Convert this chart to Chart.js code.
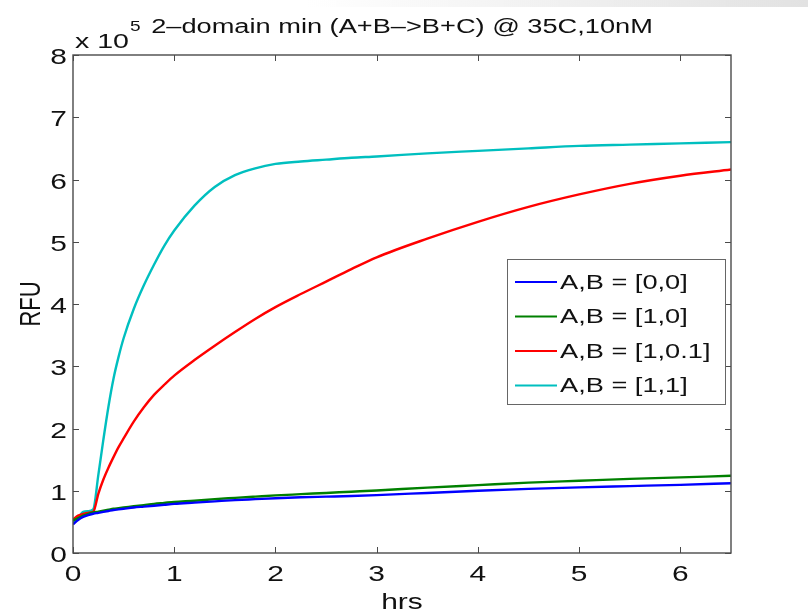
<!DOCTYPE html>
<html>
<head>
<meta charset="utf-8">
<script src="https://cdn.jsdelivr.net/npm/chart.js@4.4.1/dist/chart.umd.min.js"></script>
<style>
  html, body { margin: 0; padding: 0; background: #fff; }
  #wrap { position: relative; width: 808px; height: 613px; overflow: hidden; background: #fff; }
  #band { position: absolute; left: 0; top: 0; width: 808px; height: 7px;
          background: linear-gradient(to right, rgba(228,228,228,0) 0%, rgba(228,228,228,0) 38%, #e2e2e2 100%); }
  canvas { position: absolute; left: 0; top: 0; }
</style>
</head>
<body>
<div id="wrap">
  <canvas id="c" width="808" height="613"></canvas>
  <div id="band"></div>
</div>
<script>
// Time points (hours) shared by all four traces
const hours = [0, 0.05, 0.1, 0.15, 0.2, 0.25, 0.3, 0.35, 0.4, 0.45, 0.5, 0.6, 0.7, 0.8, 0.9, 1.0, 1.2, 1.4,
               1.6, 1.8, 2.0, 2.25, 2.5, 2.75, 3.0, 3.5, 4.0, 4.5, 5.0, 5.5, 6.0, 6.5];

// Fluorescence readings, in units of 10^5 RFU
const rfuAB_0_0 = [0.46, 0.53, 0.58, 0.61, 0.63, 0.645, 0.66, 0.675, 0.69, 0.70, 0.71, 0.73, 0.745, 0.76, 0.775, 0.79, 0.81, 0.83,
                   0.85, 0.865, 0.88, 0.895, 0.905, 0.915, 0.93, 0.965, 1.00, 1.03, 1.055, 1.075, 1.095, 1.12];
const rfuAB_1_0 = [0.52, 0.56, 0.60, 0.63, 0.65, 0.665, 0.68, 0.695, 0.71, 0.72, 0.73, 0.75, 0.77, 0.79, 0.805, 0.82, 0.84, 0.865,
                   0.885, 0.905, 0.925, 0.945, 0.965, 0.985, 1.005, 1.05, 1.09, 1.13, 1.16, 1.19, 1.215, 1.24];
const rfuAB_1_01 = [0.54, 0.60, 0.63, 0.645, 0.66, 0.95, 1.18, 1.37, 1.54, 1.70, 1.84, 2.11, 2.34, 2.54, 2.70, 2.85, 3.10, 3.33,
                    3.55, 3.76, 3.95, 4.16, 4.36, 4.56, 4.75, 5.05, 5.32, 5.56, 5.76, 5.93, 6.06, 6.16];
const rfuAB_1_1 = [0.48, 0.55, 0.66, 0.67, 0.70, 1.25, 1.82, 2.35, 2.80, 3.15, 3.45, 3.92, 4.30, 4.63, 4.93, 5.18, 5.58, 5.88,
                   6.07, 6.18, 6.25, 6.29, 6.32, 6.35, 6.37, 6.42, 6.46, 6.50, 6.54, 6.56, 6.58, 6.60];

const seriesLabels = ['A,B = [0,0]', 'A,B = [1,0]', 'A,B = [1,0.1]', 'A,B = [1,1]'];
const seriesValues = [rfuAB_0_0, rfuAB_1_0, rfuAB_1_01, rfuAB_1_1];
const seriesColors = ['#0000ff', '#008000', '#ff0000', '#00bfbf'];

const titleText = '2\u2013domain min (A+B\u2013>B+C) @ 35C,10nM';
const xTitle = 'hrs';
const yTitle = 'RFU';
const yExponent = '5';

const FONT = '"Liberation Sans", Arial, Helvetica, sans-serif';
const STRETCH = 1.36;   // wide letterforms of the exported figure
const AXIS_COLOR = '#4a4a4a';

function wideText(ctx, text, x, y, size, align, baseline) {
  ctx.save();
  ctx.font = size + 'px ' + FONT;
  ctx.textAlign = align;
  ctx.textBaseline = baseline;
  ctx.fillStyle = '#111';
  ctx.translate(x, y);
  ctx.scale(STRETCH, 1);
  ctx.fillText(text, 0, 0);
  ctx.restore();
}
function wideWidth(ctx, text, size) {
  ctx.save();
  ctx.font = size + 'px ' + FONT;
  const w = ctx.measureText(text).width * STRETCH;
  ctx.restore();
  return w;
}

// Box, inward ticks, tick labels, titles and legend in the classic figure style
const figureFrame = {
  id: 'figureFrame',
  afterDatasetsDraw(chart) {
    const ctx = chart.ctx;
    const a = chart.chartArea;
    const xs = chart.scales.x, ys = chart.scales.y;
    const tickLen = 6;

    ctx.save();
    ctx.strokeStyle = AXIS_COLOR;
    ctx.lineWidth = 1.4;
    ctx.strokeRect(a.left, a.top, a.right - a.left, a.bottom - a.top);

    ctx.lineWidth = 1;
    ctx.beginPath();
    xs.ticks.forEach(t => {
      const px = Math.round(xs.getPixelForValue(t.value)) + 0.5;
      ctx.moveTo(px, a.bottom); ctx.lineTo(px, a.bottom - tickLen);
      ctx.moveTo(px, a.top); ctx.lineTo(px, a.top + tickLen);
    });
    ys.ticks.forEach(t => {
      const py = Math.round(ys.getPixelForValue(t.value)) + 0.5;
      ctx.moveTo(a.left, py); ctx.lineTo(a.left + tickLen, py);
      ctx.moveTo(a.right, py); ctx.lineTo(a.right - tickLen, py);
    });
    ctx.stroke();
    ctx.restore();

    xs.ticks.forEach(t => {
      wideText(ctx, String(t.value), xs.getPixelForValue(t.value), a.bottom + 22, 22, 'center', 'middle');
    });
    ys.ticks.forEach(t => {
      const txt = String(t.value);
      const w = wideWidth(ctx, txt, 22);
      wideText(ctx, txt, a.left - 6 - w, ys.getPixelForValue(t.value) + 3, 22, 'left', 'middle');
    });

    const cx = (a.left + a.right) / 2;
    const tw = wideWidth(ctx, titleText, 20);
    wideText(ctx, titleText, cx - tw / 2, 33, 20, 'left', 'alphabetic');

    // axis multiplier
    wideText(ctx, 'x 10', a.left + 2, 48, 21, 'left', 'alphabetic');
    const mw = wideWidth(ctx, 'x 10', 21);
    wideText(ctx, yExponent, a.left + 3 + mw, 31, 14, 'left', 'alphabetic');

    const xw = wideWidth(ctx, xTitle, 22);
    wideText(ctx, xTitle, cx - xw / 2, 609, 22, 'left', 'alphabetic');

    ctx.save();
    ctx.font = '22px ' + FONT;
    ctx.fillStyle = '#111';
    ctx.translate(40, (a.top + a.bottom) / 2);
    ctx.rotate(-Math.PI / 2);
    ctx.scale(1, STRETCH);
    ctx.textAlign = 'center';
    ctx.textBaseline = 'alphabetic';
    ctx.fillText(yTitle, 0, 0);
    ctx.restore();

    // legend
    const lx = 507, ly = 259, lw = 218, lh = 145;
    ctx.save();
    ctx.fillStyle = '#fff';
    ctx.fillRect(lx, ly, lw, lh);
    ctx.strokeStyle = '#666';
    ctx.lineWidth = 1;
    ctx.strokeRect(lx + 0.5, ly + 0.5, lw, lh);
    chart.data.datasets.forEach((ds, i) => {
      const rowY = ly + 23 + i * 34.5;
      ctx.strokeStyle = ds.borderColor;
      ctx.lineWidth = 2;
      ctx.beginPath();
      ctx.moveTo(lx + 8, rowY);
      ctx.lineTo(lx + 50, rowY);
      ctx.stroke();
      wideText(ctx, ds.label, lx + 53, rowY + 1, 20, 'left', 'middle');
    });
    ctx.restore();
  }
};

const datasets = seriesValues.map((vals, i) => ({
  label: seriesLabels[i],
  data: hours.map((h, k) => ({ x: h, y: vals[k] })),
  borderColor: seriesColors[i],
  backgroundColor: seriesColors[i],
  borderWidth: 2.4,
  pointRadius: 0,
  fill: false,
  cubicInterpolationMode: 'monotone'
}));

new Chart(document.getElementById('c'), {
  type: 'line',
  data: { datasets },
  options: {
    responsive: false,
    animation: false,
    devicePixelRatio: 1,
    layout: { padding: { left: 0, top: 55, right: 77, bottom: 0 } },
    plugins: { legend: { display: false }, tooltip: { enabled: false }, title: { display: false } },
    scales: {
      x: {
        type: 'linear', min: 0, max: 6.5,
        ticks: { display: false, stepSize: 1 },
        grid: { display: false }, border: { display: false },
        afterFit(s) { s.height = 60; },
        afterBuildTicks(s) { s.ticks = s.ticks.filter(t => Number.isInteger(t.value)); }
      },
      y: {
        type: 'linear', min: 0, max: 8,
        ticks: { display: false, stepSize: 1 },
        grid: { display: false }, border: { display: false },
        afterFit(s) { s.width = 73; }
      }
    }
  },
  plugins: [figureFrame]
});
</script>
</body>
</html>
